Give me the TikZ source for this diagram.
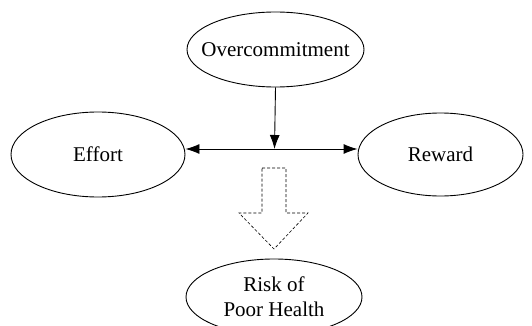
\documentclass[tikz,border=0pt]{standalone}
\usepackage{fontspec}
\setmainfont{Liberation Serif}
\usetikzlibrary{shapes.geometric,arrows.meta}
\newcommand{\zw}[1]{\makebox[0pt]{#1}}
\begin{document}
\begin{tikzpicture}[x=1pt,y=-1pt,
  oval/.style={draw,ellipse,line width=0.9pt,inner sep=0pt,font=\fontsize{21}{25}\selectfont,align=center},
  conn/.style={line width=0.9pt,-{Latex[length=14pt,width=10pt]}},
  blockarrow/.style={draw,line width=0.6pt,dash pattern=on 3pt off 2pt}]
\useasboundingbox (0,0) rectangle (532,326);
\node[oval,minimum width=177pt,minimum height=75pt] (over) at (275.5,49.5) {\zw{Overcommitment}};
\node[oval,minimum width=174pt,minimum height=85pt] (effort) at (98,154.5) {\zw{Effort}};
\node[oval,minimum width=165pt,minimum height=83pt] (reward) at (440.5,154.5) {\zw{Reward}};
\node[oval,minimum width=176pt,minimum height=76pt] (risk) at (274,297) {\zw{Risk of}\\\zw{Poor Health}};
\coordinate (j) at (274.5,149);
\draw[conn] (over.south) -- (j);
\draw[conn] (j) -- (j -| effort.east);
\draw[conn] (j) -- (j -| reward.west);
\draw[blockarrow] (262,168) -- (286,168) -- (286,213) -- (308,213) -- (274,249) -- (239,213) -- (262,213) -- cycle;
\end{tikzpicture}
\end{document}
